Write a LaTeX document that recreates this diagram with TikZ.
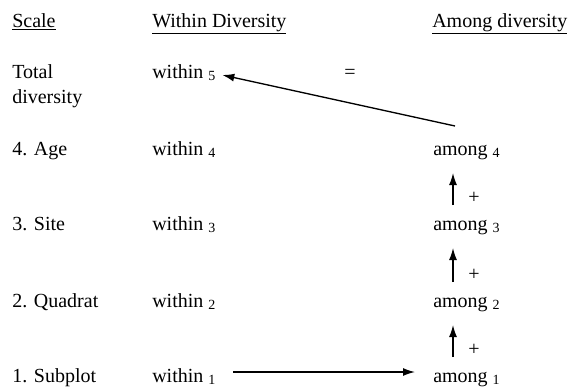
\documentclass[tikz,border=0pt]{standalone}
\usepackage{fontspec}
\setmainfont{Liberation Serif}
\usetikzlibrary{arrows.meta,calc}

\tikzset{
  txt/.style={anchor=base west, inner sep=0pt, font=\rmfamily\fontsize{15}{18.75}\selectfont},
  link/.style={-{Latex[length=9pt,width=6pt]}, line width=1pt},
  plus/.style={anchor=west, inner sep=0pt, xshift=11pt, font=\rmfamily\fontsize{15}{18.75}\selectfont}
}

\begin{document}
\begin{tikzpicture}[x=0.75pt,y=0.75pt]
  \useasboundingbox (0,0) rectangle (580,387);
  \def \Rows {
    4/232/4. Age,
    3/157/3. Site,
    2/80/2. Quadrat,
    1/5/1. Subplot}
  \def \Steps {1/2, 2/3, 3/4}

  % column heads
  \node[txt] (scalehead) at (12,360) {\underline{Scale}};
  \node[txt] (withinhead) at (152,360) {\underline{Within Diversity}};
  \node[txt] (amonghead) at (432,360) {\underline{Among diversity}};

  % top row
  \node[txt, align=left] (total) at (12,284) {Total\\diversity};
  \node[txt] (within5) at (152,309) {within \textsubscript{5}};
  \node[txt] (equals) at (344,309) {=};

  \foreach \id / \y / \lab in \Rows {
    \node[txt] (scale\id) at (12,\y) {\lab};
    \node[txt] (within\id) at (152,\y) {within \textsubscript{\id}};
    \node[txt] (among\id) at (433,\y) {among \textsubscript{\id}};
  }
  \foreach \a / \b in \Steps {
    \path[draw,link] ($(among\a.base west)+(20,25)$) -- ($(among\b.base west)+(20,-18)$)
      node[plus,pos=0.22] {+};
  }
  \path[draw,link] ($(within1.base east)+(17,10)$) -- ($(among1.base west)+(-18,10)$);
  \path[draw,link] ($(among4.base west)+(22,29)$) -- ($(within5.base east)+(6,3)$);
\end{tikzpicture}
\end{document}
